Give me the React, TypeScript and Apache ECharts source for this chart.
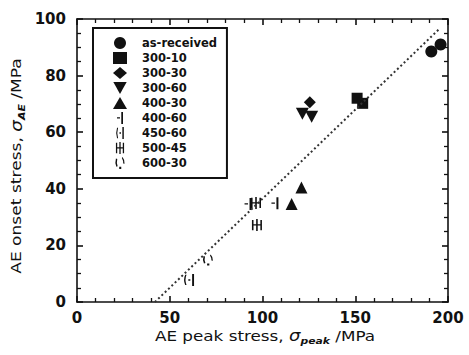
import React, { useEffect, useRef } from "react";
import * as echarts from "echarts";

// ---- data (x: AE peak stress, y: AE onset stress, MPa) ----
const seriesNames = ["as-received", "300-10", "300-30", "300-60", "400-30", "400-60", "450-60", "500-45", "600-30"];
const asReceived = [[191, 88.5], [196, 91]];
const s300_10 = [[151, 72], [154, 70.2]];
const s300_30 = [[125.5, 70.6]];
const s300_60 = [[121.5, 66.5], [126.5, 65.5]];
const s400_30 = [[121, 40.5], [115.7, 34.6]];
const s400_60 = [[106.7, 34.9], [92.2, 34.6]];
const s450_60 = [[60.4, 7.8]];
const s500_45 = [[96.5, 35], [97, 27.2]];
const s600_30 = [[70.6, 14.8]];
const fitLine = [[42, 0], [195.5, 96.6]];
const xTicks = [0, 50, 100, 150, 200];
const yTicks = [0, 20, 40, 60, 80, 100];
const xTitle = "{n|AE peak stress, }{s|σ}{sub|peak}{n| /MPa}";
const yTitle = "{n|AE onset stress, }{s|σ}{sub|AE}{n| /MPa}";

const P_DOWN = "path://M0,0L10,0L5,9Z";
const P_400_60 = "path://M6,0h2v14h-2z M1,6h3.5v1.6h-3.5z";
const P_450_60 = "path://M2,1 Q0,7 2,13 L3.2,13 Q1.4,7 3.2,1 Z M4.8,6.2h1.8v1.8h-1.8z M8.2,0h1.7v14h-1.7z";
const P_500_45 = "path://M0,1h1.5v12h-1.5z M4,0h1.5v14h-1.5z M8,1h1.5v12h-1.5z M0,6.2h9.5v1.5h-9.5z";
const P_600_30 = "path://M1.2,3 Q0,7 1.6,11 L2.9,10.4 Q1.6,7 2.5,3.4 Z M4.4,11h2v2.2h-2z M7.6,1.5 Q10,4.5 9.6,8 L8.3,7.8 Q8.5,5 7,2.4 Z";

const FONT = "DejaVu Sans";
const BLACK = "#111";

export default function App() {
  const ref = useRef<HTMLDivElement>(null);
  useEffect(() => {
    document.body.style.margin = "0";
    const chart = echarts.init(ref.current!, null, { renderer: "svg" });
    const sc = (name: string, data: number[][], symbol: string, size: any) => ({
      type: "scatter",
      name,
      data,
      symbol,
      symbolSize: size,
      itemStyle: { color: BLACK, opacity: 1 },
    });
    const rich = () => ({
      n: { fontFamily: FONT, fontSize: 14, fill: BLACK, color: BLACK, lineHeight: 18 },
      s: { fontFamily: FONT, fontSize: 15, fontStyle: "italic", fill: BLACK, color: BLACK, lineHeight: 18 },
      sub: { fontFamily: FONT, fontSize: 9, fontStyle: "italic", fontWeight: "bold", fill: BLACK, color: BLACK, lineHeight: 18, verticalAlign: "bottom", padding: [6, 0, 0, 0] },
    });
    const label = (dim: "x" | "y") => ({
      fontFamily: FONT,
      fontSize: 15,
      fontWeight: "bold",
      color: BLACK,
      margin: dim === "x" ? 8 : 11,
    });
    const axis = (dim: "x" | "y", position: string, withLabel: boolean) => {
      const ticks = dim === "x" ? xTicks : yTicks;
      return {
        type: "value",
        position,
        min: ticks[0],
        max: ticks[ticks.length - 1],
        interval: dim === "x" ? 50 : 20,
        axisLine: { show: true, onZero: false, lineStyle: { color: BLACK, width: 1.6 } },
        axisTick: { show: true, inside: true, length: 6, lineStyle: { color: BLACK, width: 1.6 } },
        minorTick: { show: true, splitNumber: dim === "x" ? 5 : 4, length: 4, lineStyle: { color: BLACK, width: 1.3 } },
        axisLabel: withLabel ? label(dim) : { show: false },
        splitLine: { show: false },
      };
    };
    chart.setOption({
      animation: false,
      grid: { left: 77, right: 21, top: 19, bottom: 53 },
      legend: {
        data: seriesNames.map((n) => (n === "300-60" ? { name: n, icon: P_DOWN } : { name: n })),
        orient: "vertical",
        left: 93,
        top: 28,
        itemWidth: 14,
        itemHeight: 12,
        itemGap: 3,
        padding: [9, 10, 9, 20],
        borderColor: BLACK,
        borderWidth: 2,
        borderRadius: 0,
        backgroundColor: "#fff",
        selectedMode: false,
        textStyle: { fontFamily: FONT, fontSize: 11.5, fontWeight: "bold", color: BLACK, lineHeight: 12, padding: [0, 0, 0, 10] },
      },
      graphic: [
        {
          type: "text",
          x: 265,
          y: 336,
          scaleX: 1.2,
          style: { text: xTitle, rich: rich(), align: "center", verticalAlign: "middle", fontFamily: FONT, fontSize: 14, fill: BLACK },
        },
        {
          type: "text",
          x: 17,
          y: 166,
          rotation: Math.PI / 2,
          scaleX: 1.22,
          style: { text: yTitle, rich: rich(), align: "center", verticalAlign: "middle", fontFamily: FONT, fontSize: 14, fill: BLACK },
        },
      ],
      xAxis: [axis("x", "bottom", true), axis("x", "top", false)],
      yAxis: [axis("y", "left", true), axis("y", "right", false)],
      series: [
        {
          type: "line",
          name: "fit",
          data: fitLine,
          symbol: "none",
          lineStyle: { color: "#333", width: 2, type: [2, 2.6] },
        },
        sc("as-received", asReceived, "circle", 12),
        sc("300-10", s300_10, "rect", 11),
        sc("300-30", s300_30, "diamond", 12),
        sc("300-60", s300_60, P_DOWN, [13, 12]),
        sc("400-30", s400_30, "triangle", 12),
        sc("400-60", s400_60, P_400_60, [7, 12]),
        sc("450-60", s450_60, P_450_60, [10, 12]),
        sc("500-45", s500_45, P_500_45, [10, 12]),
        sc("600-30", s600_30, P_600_30, [10, 11]),
      ],
    });
    return () => chart.dispose();
  }, []);
  return <div ref={ref} style={{ width: 469, height: 355 }} />;
}
